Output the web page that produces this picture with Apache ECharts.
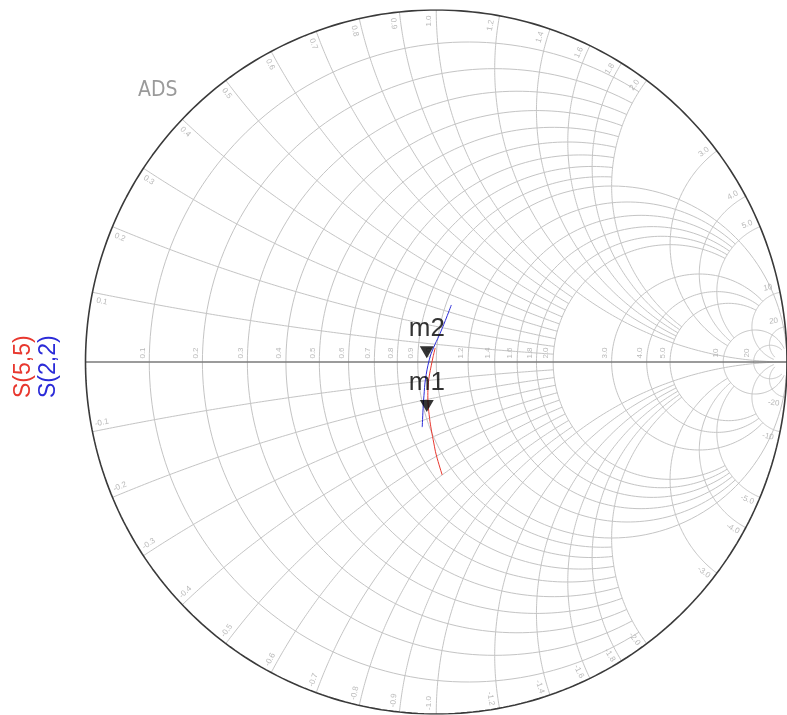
<!DOCTYPE html>
<html>
<head>
<meta charset="utf-8">
<script src="https://cdn.jsdelivr.net/npm/echarts@6/dist/echarts.min.js"></script>
<style>
  html, body { margin: 0; padding: 0; background: #ffffff; }
  #chart { width: 787px; height: 715px; }
</style>
</head>
<body>
<div id="chart"></div>
<script>
// Smith chart grid values (normalised resistance / reactance)
const resistanceValues = [0.1, 0.2, 0.3, 0.4, 0.5, 0.6, 0.7, 0.8, 0.9, 1.0,
                          1.2, 1.4, 1.6, 1.8, 2.0, 3.0, 4.0, 5.0, 10, 20];
const resistanceLabels = ['0.1', '0.2', '0.3', '0.4', '0.5', '0.6', '0.7', '0.8', '0.9', '1.0',
                          '1.2', '1.4', '1.6', '1.8', '2.0', '3.0', '4.0', '5.0', '10', '20'];
const reactanceValues = [0.1, 0.2, 0.3, 0.4, 0.5, 0.6, 0.7, 0.8, 0.9, 1.0,
                         1.2, 1.4, 1.6, 1.8, 2.0, 3.0, 4.0, 5.0, 10, 20];
const reactanceLabels = ['0.1', '0.2', '0.3', '0.4', '0.5', '0.6', '0.7', '0.8', '0.9', '1.0',
                         '1.2', '1.4', '1.6', '1.8', '2.0', '3.0', '4.0', '5.0', '10', '20'];

// Measured reflection coefficients (real, imaginary)
const s22 = [[0.043, 0.162], [0.026, 0.118], [0.009, 0.077], [-0.008, 0.040],
             [-0.020, 0.006], [-0.031, -0.051], [-0.035, -0.095], [-0.037, -0.122], [-0.040, -0.185]];
const s55 = [[-0.003, 0.040], [-0.009, 0.015], [-0.014, -0.009], [-0.020, -0.040], [-0.023, -0.065],
             [-0.024, -0.095], [-0.023, -0.122], [-0.019, -0.160], [-0.014, -0.193],
             [-0.007, -0.230], [0.000, -0.264], [0.017, -0.321]];

// Markers
const markerNames = ['m2', 'm1'];
const markerPoints = [[-0.027, 0.011], [-0.027, -0.142]];

// Extent of each grid line, chosen by decade-like tier
function gridExtent(v) {
  if (v < 1) return 2;
  if (v === 1) return Infinity;
  if (v <= 2) return 5;
  if (v <= 5) return 10;
  return 50;
}

function gamma(r, x) {
  const d = (r + 1) * (r + 1) + x * x;
  return [(r * r - 1 + x * x) / d, 2 * x / d];
}

function resistanceArc(r, xLim) {
  const c = r / (r + 1), rad = 1 / (r + 1);
  const psi = x => { const g = gamma(r, x); return Math.atan2(g[1], c - g[0]); };
  const a = isFinite(xLim) ? psi(-xLim) : -Math.PI;
  const b = isFinite(xLim) ? psi(xLim) : Math.PI;
  const pts = [];
  const N = 160;
  for (let i = 0; i <= N; i++) {
    const p = a + (b - a) * i / N;
    pts.push([c - rad * Math.cos(p), rad * Math.sin(p)]);
  }
  return pts;
}

function reactanceArc(x, rLim) {
  const ax = Math.abs(x), s = Math.sign(x);
  const alpha = r => {
    const g = gamma(r, ax);
    let a = Math.atan2(g[1] - 1 / ax, g[0] - 1);
    if (a > -Math.PI / 2 + 1e-9) a -= 2 * Math.PI;
    return a;
  };
  const a0 = alpha(0);
  const a1 = isFinite(rLim) ? alpha(rLim) : -Math.PI / 2;
  const pts = [];
  const N = 160;
  for (let i = 0; i <= N; i++) {
    const t = a0 + (a1 - a0) * i / N;
    pts.push([1 + Math.cos(t) / ax, s * (1 / ax + Math.sin(t) / ax)]);
  }
  return pts;
}

const gridLines = [];
resistanceValues.forEach(r => gridLines.push({ coords: resistanceArc(r, gridExtent(r)) }));
reactanceValues.forEach(x => {
  gridLines.push({ coords: reactanceArc(x, gridExtent(x)) });
  gridLines.push({ coords: reactanceArc(-x, gridExtent(x)) });
});

const outline = [];
for (let i = 0; i <= 360; i++) {
  const t = i * Math.PI / 180;
  outline.push([Math.cos(t), Math.sin(t)]);
}

const PX = 1 / 352; // one pixel in reflection-coefficient units

// Resistance labels: just left of each circle crossing, above the real axis
const rLabelData = resistanceValues.map((r, i) =>
  [(r - 1) / (r + 1) - 7 * PX, 9 * PX, resistanceLabels[i]]);

// Reactance labels: just inside the outer circle, on the side of each arc end away from the right
const xLabelData = [];
reactanceValues.forEach((x, i) => {
  [1, -1].forEach(s => {
    const th = s * (Math.PI - 2 * Math.atan(x));
    const rr = 1 - 11 * PX;
    let rot = (th * 180 / Math.PI) + 180;
    while (rot > 90.5) rot -= 180;
    while (rot < -90.5) rot += 180;
    const shift = 7 * PX * s;
    xLabelData.push({
      value: [rr * Math.cos(th) - shift * Math.sin(th), rr * Math.sin(th) + shift * Math.cos(th),
              (s < 0 ? '-' : '') + reactanceLabels[i]],
      label: { rotate: rot }
    });
  });
});

const chart = echarts.init(document.getElementById('chart'));
chart.setOption({
  animation: false,
  backgroundColor: '#ffffff',
  grid: { left: 85.5, top: 10, width: 704, height: 704, containLabel: false },
  xAxis: { type: 'value', min: -1, max: 1, show: false },
  yAxis: { type: 'value', min: -1, max: 1, show: false },
  graphic: [
    { type: 'text', left: 138, top: 80,
      style: { text: 'ADS', fill: '#9a9a9a', font: '21px "DejaVu Sans Condensed"' } },
    { type: 'text', x: 12, y: 398, rotation: Math.PI / 2,
      style: { text: 'S(5,5)', fill: '#e8372e', font: '23px Arial, "Liberation Sans"' } },
    { type: 'text', x: 37, y: 398, rotation: Math.PI / 2,
      style: { text: 'S(2,2)', fill: '#2b2bd8', font: '23px Arial, "Liberation Sans"' } }
  ],
  series: [
    { type: 'lines', coordinateSystem: 'cartesian2d', polyline: true, silent: true,
      lineStyle: { color: '#c4c4c4', width: 1, opacity: 1 }, data: gridLines, z: 1 },
    { type: 'line', data: [[-1, 0], [1, 0]], showSymbol: false, silent: true,
      lineStyle: { color: '#7a7a7a', width: 1.5 }, z: 2 },
    { type: 'line', data: outline, showSymbol: false, silent: true,
      lineStyle: { color: '#3a3a3a', width: 1.6 }, z: 2 },
    { type: 'scatter', data: rLabelData, symbolSize: 0, silent: true, z: 3,
      label: { show: true, position: 'inside', rotate: 90, color: '#a8a8a8',
               fontSize: 8, fontFamily: 'Arial', formatter: p => p.value[2] } },
    { type: 'scatter', data: xLabelData, symbolSize: 0, silent: true, z: 3,
      label: { show: true, position: 'inside', color: '#a8a8a8',
               fontSize: 8, fontFamily: 'Arial', formatter: p => p.value[2] } },
    { name: 'S(2,2)', type: 'line', data: s22, smooth: 0.4, showSymbol: false,
      lineStyle: { color: '#2b2bd8', width: 1 }, z: 5 },
    { name: 'S(5,5)', type: 'line', data: s55, smooth: 0.4, showSymbol: false,
      lineStyle: { color: '#e8372e', width: 1 }, z: 5 },
    { type: 'scatter', z: 6,
      data: markerPoints.map((p, i) => ({ value: [p[0], p[1], markerNames[i]] })),
      symbol: 'triangle', symbolRotate: 180, symbolSize: [14, 12], symbolOffset: [0, -6],
      itemStyle: { color: '#000000' },
      label: { show: true, position: 'top', distance: 4, color: '#000000',
               fontSize: 26, fontFamily: 'Arial', formatter: p => p.value[2] } }
  ]
});
</script>
</body>
</html>
